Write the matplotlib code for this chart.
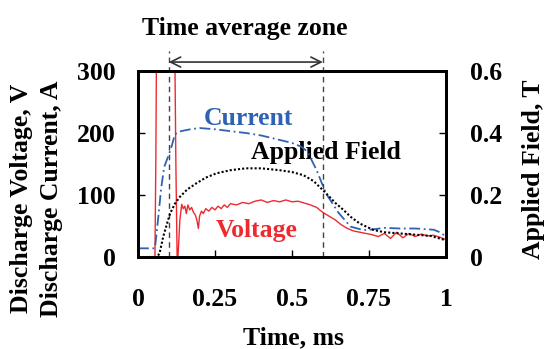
import matplotlib
matplotlib.use('Agg')
import matplotlib.pyplot as plt

plt.rcParams['font.family'] = 'Liberation Serif'
plt.rcParams['font.weight'] = 'bold'

# 放电电流 (A)
t_cur = [0, 0.055, 0.065, 0.075, 0.085, 0.1, 0.11, 0.12, 0.14, 0.17, 0.2, 0.25, 0.3, 0.35,
         0.4, 0.45, 0.5, 0.53, 0.55, 0.58, 0.61, 0.65, 0.69, 0.72, 0.74, 0.77, 0.8, 0.85,
         0.9, 0.96, 0.98, 1.0]
current = [14, 14, 60, 110, 145, 165, 180, 198, 203, 206, 208, 206, 203, 200,
           196, 190, 184, 178, 170, 140, 103, 72, 49, 45, 43.5, 45, 47, 46,
           46, 44, 40, 33]

# 外加磁场 (T)
t_fld = [0, 0.062, 0.07, 0.082, 0.095, 0.104, 0.12, 0.136, 0.16, 0.19, 0.22, 0.255, 0.3,
         0.35, 0.4, 0.46, 0.5, 0.537, 0.57, 0.6, 0.62, 0.64, 0.667, 0.69, 0.72, 0.765,
         0.8, 0.85, 0.9, 0.95, 1.0]
field = [0, 0, 0.012, 0.066, 0.11, 0.14, 0.172, 0.194, 0.218, 0.238, 0.256, 0.27, 0.28,
         0.286, 0.286, 0.28, 0.274, 0.264, 0.245, 0.216, 0.196, 0.175, 0.152, 0.13, 0.108, 0.087,
         0.08, 0.076, 0.072, 0.068, 0.054]

# 放电电压 (V)
t_vol = [0, 0.055, 0.058, 0.061, 0.118, 0.123, 0.127, 0.13, 0.136, 0.142, 0.147, 0.152, 0.157,
         0.162, 0.168, 0.174, 0.18, 0.186, 0.191, 0.196, 0.2, 0.206, 0.212, 0.22, 0.23,
         0.24, 0.25, 0.26, 0.27, 0.28, 0.29, 0.3, 0.32, 0.34, 0.36, 0.38, 0.4, 0.42,
         0.44, 0.46, 0.48, 0.5, 0.52, 0.54, 0.56, 0.58, 0.6, 0.62, 0.64, 0.66, 0.68,
         0.7, 0.72, 0.74, 0.76, 0.78, 0.8, 0.82, 0.84, 0.86, 0.88, 0.9, 0.92, 0.94,
         0.96, 0.98, 1.0]
voltage = [0, 0, 160, 420, 420, 150, 0, 2, 60, 85, 78, 82, 70,
           84, 76, 80, 72, 68, 60, 46, 66, 74, 70, 78, 74,
           80, 76, 82, 78, 84, 80, 86, 84, 88, 86, 90, 92, 88,
           91, 89, 92, 89, 90, 87, 84, 80, 72, 66, 60, 52, 46,
           42, 40, 38, 36, 33, 38, 30, 40, 31, 38, 33, 37, 34,
           35, 32, 28]

zone = [0.1, 0.6]
xticks = [0, 0.25, 0.5, 0.75, 1]
xticklabels = ['0', '0.25', '0.5', '0.75', '1']
yticks = [0, 100, 200, 300]
y2ticks = [0, 0.2, 0.4, 0.6]
y2ticklabels = ['0', '0.2', '0.4', '0.6']

fs = 18.5
blue = '#2f62b3'
red = '#ee2a30'

fig = plt.figure(figsize=(5.45, 3.49), dpi=100)
ax = fig.add_axes([0.2532, 0.2636, 0.5651, 0.533])
ax2 = ax.twinx()

ax.plot(t_vol, voltage, color=red, lw=1.0, zorder=3)
ax.plot(t_cur, current, color=blue, lw=1.3, ls=(0, (6, 2, 1, 2)), zorder=4)
ax2.plot(t_fld, field, color='black', lw=1.5, ls=(0, (1, 1)))

ax.set_xlim(0, 1)
ax.set_ylim(0, 300)
ax2.set_ylim(0, 0.6)
ax.set_xticks(xticks)
ax.set_xticklabels(xticklabels)
ax.set_yticks(yticks)
ax2.set_yticks(y2ticks)
ax2.set_yticklabels(y2ticklabels)

ax.tick_params(axis='x', direction='in', length=5, width=1, labelsize=fs, pad=22)
ax.tick_params(axis='y', direction='in', length=5, width=1, labelsize=fs, pad=16)
ax2.tick_params(axis='y', direction='in', length=5, width=1, labelsize=fs, pad=17)
for a in (ax, ax2):
    for s in a.spines.values():
        s.set_linewidth(2)

# 时间平均区间
for z in zone:
    ax.plot([z, z], [0, 1.108], color='#444444', lw=1, ls=(0, (4, 3)),
            transform=ax.get_xaxis_transform(), clip_on=False, zorder=5)
ax.annotate('', xy=(zone[0], 1.048), xytext=(zone[1], 1.048),
            xycoords=ax.get_xaxis_transform(),
            arrowprops=dict(arrowstyle='<->', color='#333333', lw=1.2,
                            shrinkA=0, shrinkB=0, mutation_scale=18))
ax.text(0.347, 1.231, 'Time average zone', transform=ax.get_xaxis_transform(),
        ha='center', va='center', fontsize=fs)

ax.text(0.36, 224, 'Current', color=blue, ha='center', va='center', fontsize=fs)
ax.text(0.61, 168, 'Applied Field', color='black', ha='center', va='center', fontsize=fs)
ax.text(0.385, 43, 'Voltage', color=red, ha='center', va='center', fontsize=fs)

fig.text(0.040, 0.431, 'Discharge Voltage, V', rotation=90, ha='center', va='center', fontsize=fs)
fig.text(0.095, 0.431, 'Discharge Current, A', rotation=90, ha='center', va='center', fontsize=fs)
fig.text(0.978, 0.516, 'Applied Field, T', rotation=90, ha='center', va='center', fontsize=fs)
fig.text(0.538, 0.0315, 'Time, ms', ha='center', va='center', fontsize=fs)

fig.savefig('out.png', dpi=100)
